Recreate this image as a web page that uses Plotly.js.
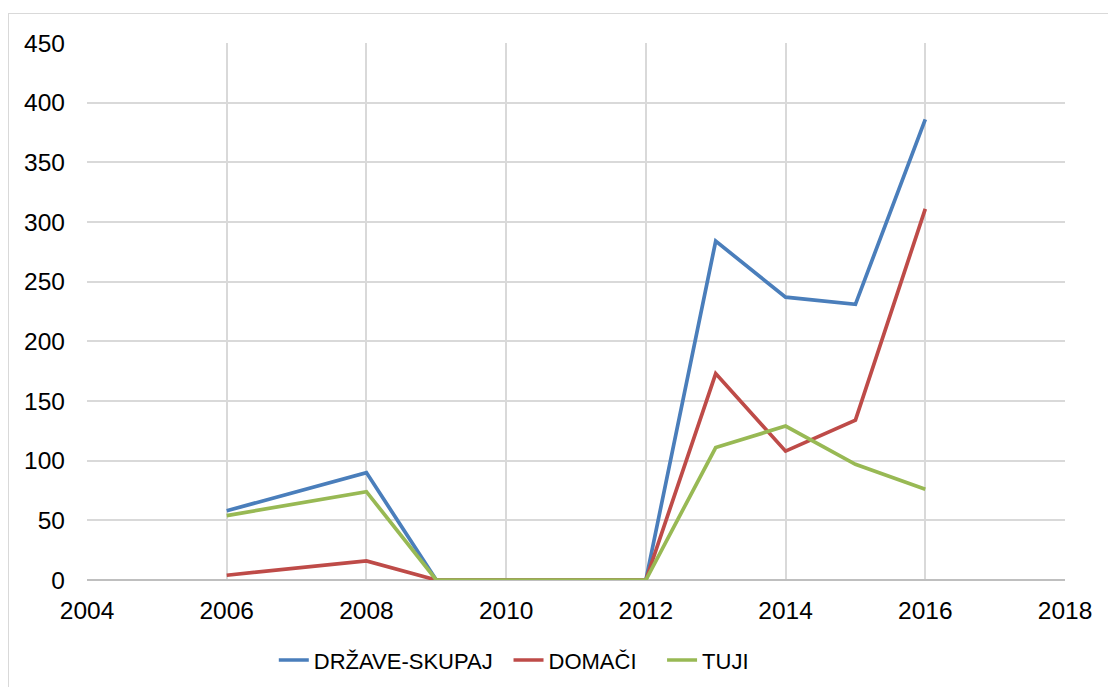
<!DOCTYPE html>
<html>
<head>
<meta charset="utf-8">
<script src="https://cdn.plot.ly/plotly-3.0.1.min.js"></script>
<style>
  body { margin: 0; background: #fff; }
  #chart { width: 1108px; height: 687px; }
  #frame { position: absolute; left: 8px; top: 13px; width: 1110px; height: 690px;
           border: 1.5px solid #d9d9d9; pointer-events: none; }
</style>
</head>
<body>
<div id="chart"></div>
<div id="frame"></div>
<script>
const years = [2006, 2008, 2009, 2010, 2011, 2012, 2013, 2014, 2015, 2016];
const skupaj = [58, 90, 0, 0, 0, 0, 284, 237, 231, 386];
const domaci = [4, 16, 0, 0, 0, 0, 173, 108, 134, 311];
const tuji = [54, 74, 0, 0, 0, 0, 111, 129, 97, 76];

const names = ["DRŽAVE-SKUPAJ", "DOMAČI", "TUJI"];
const colors = ["#4a7ebb", "#be4b48", "#98b954"];
const legendIds = ["legend", "legend2", "legend3"];

const traces = [skupaj, domaci, tuji].map((y, i) => ({
    x: years,
    y: y,
    name: names[i],
    type: "scatter",
    mode: "lines",
    line: { color: colors[i], width: 3.7 },
    legend: legendIds[i],
    hoverinfo: "x+y+name"
}));

const font = { family: "Liberation Sans, Arial, sans-serif", size: 24.5, color: "#000" };
const legendFont = { family: "Liberation Sans, Arial, sans-serif", size: 22, color: "#000" };

// one legend per series so each entry sits where the original has it
const legendX = [0.191, 0.431, 0.588];
const legends = {};
legendIds.forEach((id, i) => {
    legends[id] = {
        orientation: "h",
        x: legendX[i],
        xanchor: "left",
        yref: "container",
        y: 0.039,
        yanchor: "middle",
        font: legendFont,
        itemwidth: 30,
        bgcolor: "rgba(0,0,0,0)"
    };
});

Plotly.newPlot("chart", traces, {
    width: 1108,
    height: 687,
    margin: { l: 87, r: 43, t: 43, b: 107, autoexpand: false },
    paper_bgcolor: "#fff",
    plot_bgcolor: "#fff",
    font: font,
    showlegend: true,
    xaxis: {
        range: [2004, 2018],
        dtick: 2,
        tick0: 2004,
        showgrid: true,
        gridcolor: "#d9d9d9",
        gridwidth: 1.5,
        zeroline: false,
        showline: false,
        ticks: "",
        ticklabelstandoff: 13,
        tickfont: font,
        automargin: false,
        fixedrange: true
    },
    yaxis: {
        range: [0, 450],
        dtick: 50,
        showgrid: true,
        gridcolor: "#d9d9d9",
        gridwidth: 1.5,
        zeroline: true,
        zerolinecolor: "#bfbfbf",
        zerolinewidth: 1.5,
        showline: false,
        ticks: "",
        ticklabelstandoff: 21,
        tickfont: font,
        automargin: false,
        fixedrange: true
    },
    ...legends
}, { displayModeBar: false, responsive: false });
</script>
</body>
</html>
